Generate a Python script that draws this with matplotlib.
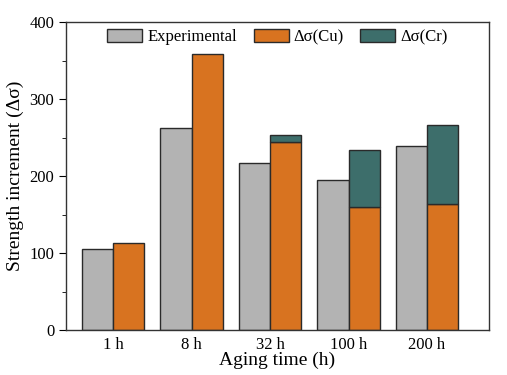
import matplotlib
matplotlib.use("Agg")
import matplotlib.pyplot as plt
import numpy as np
from matplotlib.ticker import MultipleLocator

plt.rcParams['font.family'] = ['Liberation Serif', 'DejaVu Serif']

categories = ['1 h', '8 h', '32 h', '100 h', '200 h']
experimental = [105, 262, 217, 195, 239]
cu = [113, 358, 244, 160, 164]
cr_total = [np.nan, np.nan, 253, 234, 266]

fig = plt.figure(figsize=(5.07, 3.75), dpi=100)
ax = fig.add_axes([66/507, 1-330/375, (489-66)/507, (330-22)/375])

x = np.arange(len(categories))
w = 0.4
cr = [t - c if not np.isnan(t) else 0 for t, c in zip(cr_total, cu)]
ec = '#2a2a2a'
ax.bar(x - w/2, experimental, w, color='#b3b3b3', edgecolor=ec, linewidth=1, label='Experimental')
ax.bar(x + w/2, cu, w, color='#d87320', edgecolor=ec, linewidth=1, label='Δσ(Cu)')
mask = [v > 0 for v in cr]
ax.bar(x[mask] + w/2, np.array(cr)[mask], w, bottom=np.array(cu)[mask], color='#3d6e6b',
       edgecolor=ec, linewidth=1, label='Δσ(Cr)')

ax.set_xlim(-0.6, 4.79)
ax.set_ylim(0, 400)
ax.set_xticks(x)
ax.set_xticklabels(categories)
ax.yaxis.set_major_locator(MultipleLocator(100))
ax.yaxis.set_minor_locator(MultipleLocator(50))
ax.tick_params(axis='x', length=0, labelsize=12, pad=5)
ax.tick_params(axis='y', which='major', direction='out', length=5, labelsize=12)
ax.tick_params(axis='y', which='minor', direction='out', length=3)
ax.set_xlabel('Aging time (h)', fontsize=14, labelpad=-1)
ax.set_ylabel('Strength increment (Δσ)', fontsize=14, labelpad=4)
for s in ax.spines.values():
    s.set_color('#333333')
    s.set_linewidth(1)

ax.legend(loc='upper center', ncol=3, frameon=False, fontsize=12, handlelength=2.1,
          handleheight=0.85, columnspacing=1.0, handletextpad=0.3, borderaxespad=0.2,
          bbox_to_anchor=(0.5, 1.01))

fig.savefig('out.png', dpi=100)
